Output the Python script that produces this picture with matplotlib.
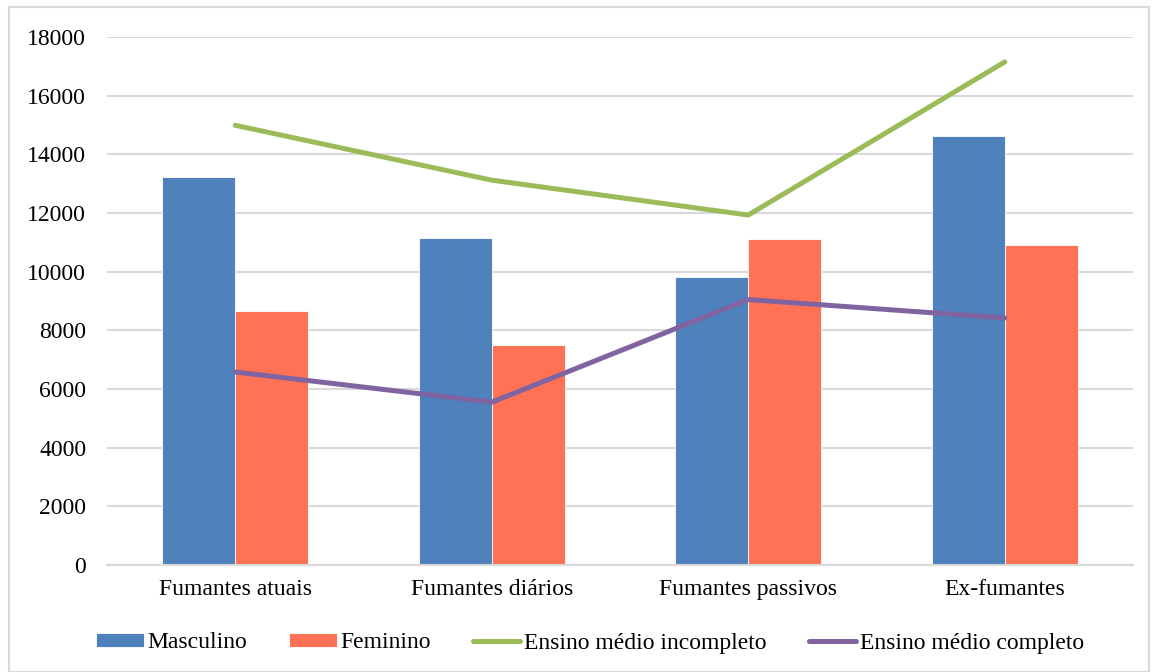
"""Smoking status by sex and schooling: grouped bars with two overlaid lines."""

import matplotlib
matplotlib.use("Agg")
import matplotlib.pyplot as plt
from matplotlib.patches import Rectangle
import numpy as np

categorias = ["Fumantes atuais", "Fumantes diários", "Fumantes passivos", "Ex-fumantes"]
masculino = [13220, 11150, 9830, 14640]
feminino = [8660, 7490, 11120, 10900]
medio_incompleto = [14990, 13120, 11930, 17150]
medio_completo = [6580, 5550, 9050, 8420]
yticks = list(range(0, 18001, 2000))

plt.rcParams["font.family"] = ["Liberation Serif", "DejaVu Serif"]

fig = plt.figure(figsize=(11.56, 6.72), dpi=100)
ax = fig.add_axes([107 / 1156, 1 - 565 / 672, 1026 / 1156, 528 / 672])

x = np.arange(len(categorias))
w = 0.285
b1 = ax.bar(x - w / 2, masculino, width=w, color="#4F81BD", edgecolor="white",
            linewidth=0.6, label="Masculino", zorder=2)
b2 = ax.bar(x + w / 2, feminino, width=w, color="#FF7256", edgecolor="white",
            linewidth=0.6, label="Feminino", zorder=2)
l1, = ax.plot(x, medio_incompleto, color="#9BBB59", linewidth=3.6,
              solid_capstyle="round", label="Ensino médio incompleto", zorder=3)
l2, = ax.plot(x, medio_completo, color="#8064A2", linewidth=3.6,
              solid_capstyle="round", label="Ensino médio completo", zorder=3)

ax.set_xlim(-0.5, len(categorias) - 0.5)
ax.set_ylim(0, 18000)
ax.set_yticks(yticks)
ax.set_xticks(x)
ax.set_xticklabels(categorias)
ax.tick_params(axis="both", length=0, labelsize=17, colors="black")
ax.tick_params(axis="y", pad=15)
ax.tick_params(axis="x", pad=10)
ax.grid(axis="y", color="#D9D9D9", linewidth=1.5, zorder=0)
ax.set_axisbelow(True)
for side in ("top", "right", "left"):
    ax.spines[side].set_visible(False)
ax.spines["bottom"].set_color("#D9D9D9")
ax.spines["bottom"].set_linewidth(1.5)

handles = [b1, b2, l1, l2]
fig.legend(handles, [h.get_label() for h in handles], loc="center",
           bbox_to_anchor=(590 / 1156, 1 - 643 / 672), ncol=4,
           frameon=False, fontsize=17, handlelength=2.0, handleheight=0.5,
           handletextpad=0.15, columnspacing=1.8)

fig.patches.append(Rectangle((9 / 1156, 0), 1140 / 1156, 1 - 7 / 672,
                             transform=fig.transFigure, fill=False,
                             edgecolor="#D9D9D9", linewidth=1.5))

fig.savefig("out.png", dpi=100)
